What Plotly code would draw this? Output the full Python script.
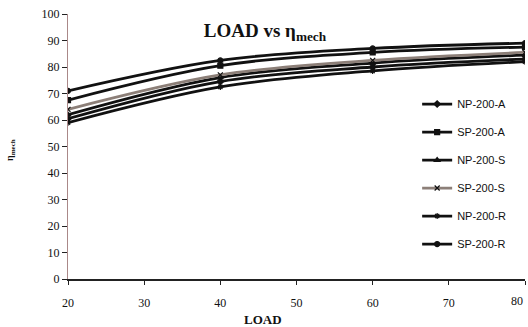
import plotly.graph_objects as go

load = [20, 40, 60, 80]
x_tick_labels = ["20", "30", "40", "50", "60", "70", "80"]
series_names = ["NP-200-A", "SP-200-A", "NP-200-S", "SP-200-S", "NP-200-R", "SP-200-R"]
np_200_a = [60.5, 74.5, 80.0, 83.0]
sp_200_a = [67.5, 80.5, 85.5, 87.5]
np_200_s = [62.0, 76.0, 81.5, 84.5]
sp_200_s = [64.0, 77.0, 82.5, 85.5]
np_200_r = [59.0, 72.5, 78.5, 82.0]
sp_200_r = [71.0, 82.5, 87.0, 89.0]
values = [np_200_a, sp_200_a, np_200_s, sp_200_s, np_200_r, sp_200_r]

symbols = ["diamond", "square", "triangle-up", "x-thin", "asterisk", "circle"]
colors = ["#111111", "#111111", "#111111", "#8c7f78", "#111111", "#111111"]

fig = go.Figure()
for i, name in enumerate(series_names):
    fig.add_trace(go.Scatter(
        x=load, y=values[i], name=name, mode="lines+markers",
        legendgroup=name,
        line=dict(color=colors[i], width=2.8, shape="spline"),
        marker=dict(symbol=symbols[i], size=5, color="#111111",
                    line=dict(color="#111111", width=1.2)),
    ))

font_main = "Liberation Serif"
fig.update_layout(
    width=528, height=327,
    margin=dict(l=68, r=3, t=14, b=48),
    paper_bgcolor="white", plot_bgcolor="white",
    showlegend=True,
    title=dict(text="<b>LOAD vs η<sub>mech</sub></b>", x=265 / 528, xanchor="center",
               y=1 - 30 / 327, yanchor="middle",
               font=dict(family=font_main, size=19, color="#111111")),
    legend=dict(x=0.764, y=0.715, xanchor="left", yanchor="top",
                bgcolor="rgba(0,0,0,0)", tracegroupgap=9,
                font=dict(family="Liberation Sans Narrow, Liberation Sans", size=11, color="#111111")),
    font=dict(family=font_main, color="#111111"),
)
fig.update_xaxes(range=[20, 80], tickvals=[20, 30, 40, 50, 60, 70, 80], ticktext=x_tick_labels,
                 showline=True, linecolor="#222222",
                 linewidth=1.5, ticks="outside", ticklen=4, tickcolor="#222222",
                 showgrid=False, zeroline=False, ticklabelstandoff=8,
                 tickfont=dict(family=font_main, size=12, color="#111111"))
fig.update_yaxes(range=[0, 100], dtick=10, showline=True, linecolor="#aa8888",
                 linewidth=1, ticks="outside", ticklen=5, tickcolor="#222222",
                 showgrid=False, zeroline=False,
                 tickfont=dict(family=font_main, size=12, color="#111111"))
# last tick label, kept inside the picture at the right edge
fig.add_annotation(text=x_tick_labels[-1], xref="x", yref="paper",
                   x=80, y=-(301 - 279) / 265, showarrow=False,
                   xanchor="right", yanchor="middle",
                   font=dict(family=font_main, size=12, color="#111111"))
fig.add_annotation(text="<b>LOAD</b>", xref="paper", yref="paper",
                   x=(263 - 68) / 457, y=-(319 - 279) / 265, showarrow=False,
                   xanchor="center", yanchor="middle",
                   font=dict(family=font_main, size=13, color="#111111"))
fig.add_annotation(text="<b>η<sub>mech</sub></b>", xref="paper", yref="paper",
                   x=(10 - 68) / 457, y=(279 - 150) / 265, showarrow=False,
                   textangle=-90, xanchor="center", yanchor="middle",
                   font=dict(family=font_main, size=10, color="#111111"))

fig.write_html("out.html")
